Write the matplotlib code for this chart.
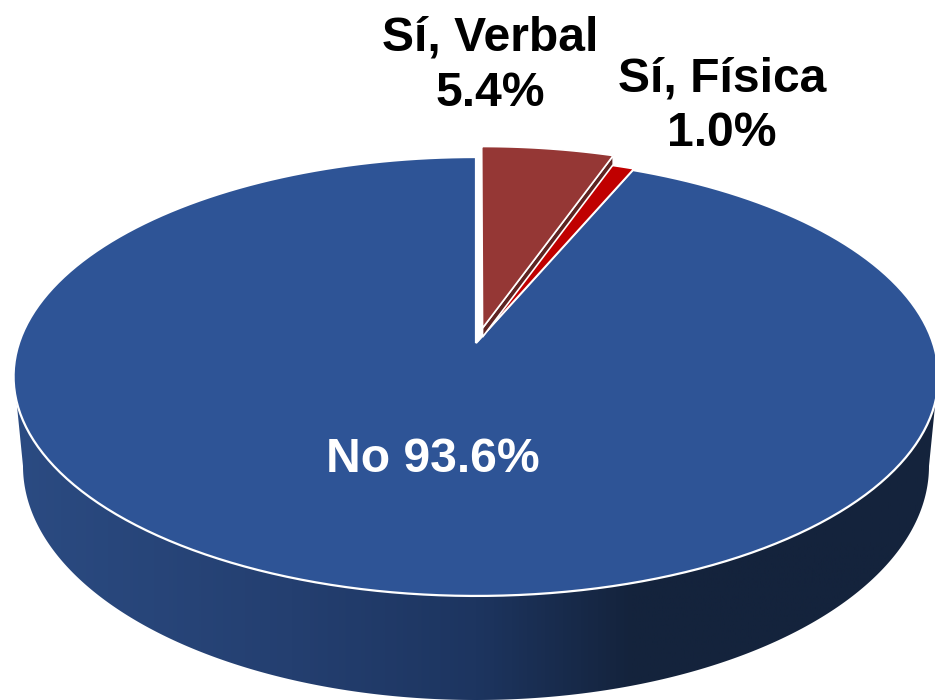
import numpy as np
import matplotlib
matplotlib.use('Agg')
import matplotlib.pyplot as plt
from matplotlib.colors import LinearSegmentedColormap
from matplotlib.patches import Polygon

plt.rcParams['font.family'] = ['Liberation Sans', 'DejaVu Sans']

# values, clockwise from 12 o'clock
labels = ['Sí, Verbal', 'Sí, Física', 'No']
values = [5.4, 1.0, 93.6]
explode = [0.086, 0.008, 0.0]
colors = ['#953735', '#c00000', '#2e5496']
side_colors = ['#2b4b82', '#243f70', '#1d3560', '#14233c', '#14233c']
side_stops = [0.0, 0.3, 0.5, 0.67, 1.0]

W, H = 935, 700


# tilted disc -> picture pixels
def project(u, v):
    w = 0.1526 * v + 1
    return 476 + 457 * u / w, (343 - 162 * v) / w


def wedge_points(start, end, shift=0.0):
    mid = (start + end) / 2
    du, dv = shift * np.sin(mid), shift * np.cos(mid)
    t = np.linspace(start, end, 200)
    u = np.concatenate([[du], du + np.sin(t)])
    v = np.concatenate([[dv], dv + np.cos(t)])
    x, y = project(u, v)
    return np.column_stack([x, y])


fig = plt.figure(figsize=(W / 100, H / 100), dpi=100)
ax = fig.add_axes([0, 0, 1, 1])

# side wall, darker to the right
t = np.linspace(np.pi, 0, 300)
side_x = 476 + 453 * np.cos(t)
side_y = 466 + 234 * np.sin(t)
side_pts = np.column_stack([np.r_[14, side_x, 938], np.r_[376, side_y, 376]])
cmap = LinearSegmentedColormap.from_list('side', list(zip(side_stops, side_colors)))
img = ax.imshow(np.linspace(0, 1, 512).reshape(1, -1), cmap=cmap, aspect='auto',
                extent=[14, 938, 720, 370], zorder=1)
side_patch = Polygon(side_pts, closed=True, fc='none', ec='none', zorder=1)
ax.add_patch(side_patch)
img.set_clip_path(side_patch)

edges = np.r_[0, np.cumsum(values)] / sum(values) * 2 * np.pi

# big slice first, then the small ones on top of it
ax.add_patch(Polygon(wedge_points(edges[2], edges[3], explode[2]), closed=True,
                     fc=colors[2], ec='white', lw=1.6, zorder=2))
ax.add_patch(Polygon(wedge_points(edges[1], edges[2], explode[1]), closed=True,
                     fc=colors[1], ec='white', lw=1.2, zorder=3))

# thin cut face of the verbal slice
top = wedge_points(edges[0], edges[1], explode[0]) + [0, 3]
cut = np.vstack([top[0], top[-1], top[-1] + [0, 9], top[0] + [0, 9]])
ax.add_patch(Polygon(cut, closed=True, fc='#5e2422', ec='white', lw=1.2, zorder=4))
ax.add_patch(Polygon(top, closed=True, fc=colors[0], ec='white', lw=1.2, zorder=5))

# text
ax.text(490, 38, labels[0], ha='center', va='center', fontsize=34.6, fontweight='bold', color='black', zorder=6)
ax.text(490, 93, f'{values[0]:.1f}%', ha='center', va='center', fontsize=34.6, fontweight='bold', color='black', zorder=6)
ax.text(722, 79, labels[1], ha='center', va='center', fontsize=34.6, fontweight='bold', color='black', zorder=6)
ax.text(722, 134, f'{values[1]:.1f}%', ha='center', va='center', fontsize=34.6, fontweight='bold', color='black', zorder=6)
ax.text(433, 460, f'{labels[2]} {values[2]:.1f}%', ha='center', va='center', fontsize=34.6,
        fontweight='bold', color='white', zorder=6)

ax.set_xlim(0, W)
ax.set_ylim(H, 0)
ax.axis('off')

fig.savefig('out.png', dpi=100)
